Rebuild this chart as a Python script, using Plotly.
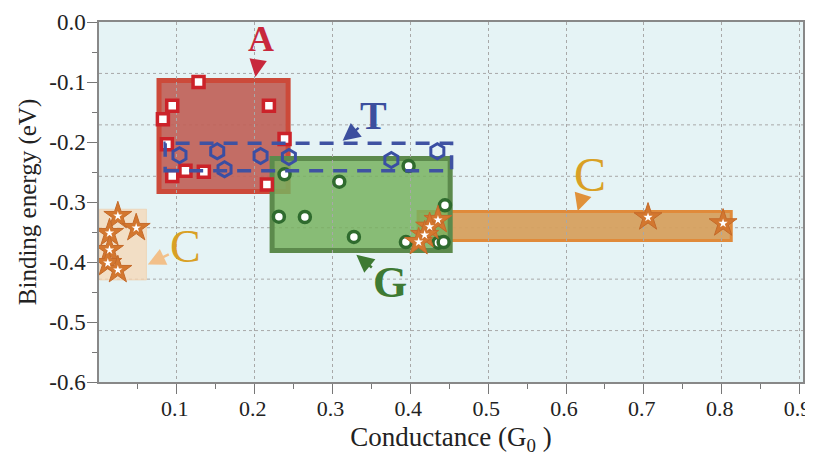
import plotly.graph_objects as go

# ---------------- data ----------------
A_x = [0.1279, 0.0941, 0.0821, 0.2183, 0.0872, 0.2384, 0.1111, 0.0941, 0.1347, 0.2157]
A_y = [-0.100, -0.1395, -0.162, -0.1395, -0.2038, -0.195, -0.248, -0.2567, -0.2495, -0.271]

T_x = [0.1034, 0.1519, 0.1613, 0.2076, 0.2440, 0.3756, 0.4347]
T_y = [-0.222, -0.2155, -0.2455, -0.2233, -0.225, -0.230, -0.2155]

G_x = [0.2384, 0.3087, 0.3978, 0.2311, 0.2645, 0.4445, 0.3275, 0.3943, 0.4361, 0.4428]
G_y = [-0.2538, -0.2662, -0.2400, -0.3245, -0.325, -0.3055, -0.3583, -0.3667, -0.3678, -0.3667]

C_x = [0.0242, 0.0478, 0.0135, 0.0135, 0.0113, 0.0242,
       0.4355, 0.4248, 0.4184, 0.4107, 0.7054, 0.8018]
C_y = [-0.3233, -0.3433, -0.3517, -0.380, -0.4017, -0.4133,
       -0.330, -0.3412, -0.355, -0.3667, -0.3255, -0.3355]

# region boxes: [x0, x1], [y0, y1]
box_A = ([0.0771, 0.2430], [-0.2825, -0.0975])
box_G = ([0.2224, 0.4512], [-0.3808, -0.2275])
box_C_bar = ([0.4100, 0.8123], [-0.3642, -0.3158])
box_C_low = ([0.0006, 0.0610], [-0.4300, -0.3120])
box_T = ([0.0850, 0.4530], [-0.2480, -0.2020])

x_ticks = [0.1, 0.2, 0.3, 0.4, 0.5, 0.6, 0.7, 0.8, 0.9]
x_ticktext = ["0.1", "0.2", "0.3", "0.4", "0.5", "0.6", "0.7", "0.8", "0.9"]
y_ticks = [0.0, -0.1, -0.2, -0.3, -0.4, -0.5, -0.6]
y_ticktext = ["0.0", "-0.1", "-0.2", "-0.3", "-0.4", "-0.5", "-0.6"]

# label annotations: text, tip (x, y), text offset (px), colour, size, arrow colour
labels = [
    ("<b>A</b>", 0.201, -0.0917, 6, -38, "#C8283C", 36, "#C8283C"),
    ("<b>T</b>", 0.313, -0.198, 31, -25, "#3C4F9E", 40, "#3C4F9E"),
    ("<b>G</b>", 0.3306, -0.388, 34, 28, "#3E7A33", 44, "#3E7A33"),
    ("C", 0.615, -0.315, 12, -37, "#D9A024", 48, "#E0913A"),
    ("C", 0.0627, -0.404, 38, -18, "#D9A024", 46, "#F2C08A"),
]

SERIF = "Liberation Serif, Times New Roman, serif"

fig = go.Figure()

def rect(box, fill, line, lw, layer="below", dash=None):
    (x0, x1), (y0, y1) = box
    fig.add_shape(type="rect", xref="x", yref="y", x0=x0, x1=x1, y0=y0, y1=y1,
                  fillcolor=fill, line=dict(color=line, width=lw, dash=dash),
                  layer=layer)

rect(box_C_low, "rgba(245,215,180,0.75)", "rgba(240,200,160,0.5)", 1)
rect(box_C_bar, "rgba(214,160,95,0.95)", "#E08A3A", 3)
rect(box_A, "rgba(192,98,88,0.92)", "#CC4A3A", 5)
rect(box_G, "rgba(120,178,95,0.85)", "#5C8A4C", 5)
rect(box_T, "rgba(0,0,0,0)", "#3F52A2", 3.5, layer="above", dash="14px,10px")

# horizontal dotted grid (7 equal divisions)
for i in range(1, 7):
    yy = -0.6 * i / 7
    fig.add_shape(type="line", xref="paper", yref="y", x0=0, x1=1, y0=yy, y1=yy,
                  line=dict(color="#a8a8a8", width=1, dash="dot"), layer="below")

fig.add_trace(go.Scatter(x=A_x, y=A_y, mode="markers", name="A",
                         marker=dict(symbol="square", size=11, color="white",
                                     line=dict(color="#CC2229", width=3.5))))
fig.add_trace(go.Scatter(x=T_x, y=T_y, mode="markers", name="T",
                         marker=dict(symbol="hexagon-open", size=15, color="#3A4EA3",
                                     line=dict(color="#3A4EA3", width=3))))
fig.add_trace(go.Scatter(x=G_x, y=G_y, mode="markers", name="G",
                         marker=dict(symbol="circle", size=11, color="white",
                                     line=dict(color="#2F6B2E", width=3.5))))
fig.add_trace(go.Scatter(x=C_x, y=C_y, mode="markers", name="C",
                         marker=dict(symbol="star", size=21, color="#D3772F",
                                     line=dict(color="#C46A2A", width=1))))
fig.add_trace(go.Scatter(x=C_x, y=C_y, mode="markers", name="C centre",
                         marker=dict(symbol="star", size=7, color="white",
                                     line=dict(width=0))))

for text, x, y, ax, ay, col, size, acol in labels:
    fig.add_annotation(x=x, y=y, xref="x", yref="y", ax=ax, ay=ay,
                       text=text, showarrow=True, arrowhead=2, arrowsize=1.4,
                       arrowwidth=2.5, arrowcolor=acol, standoff=0,
                       font=dict(family=SERIF, size=size, color=col))

# the page body adds an 8px offset, so the figure is 8px smaller on each side
fig.update_layout(
    width=805, height=448,
    margin=dict(l=91, r=10, t=14, b=74),
    paper_bgcolor="white", plot_bgcolor="#E5F3F5",
    showlegend=False,
    font=dict(family=SERIF, size=22, color="#222"),
    xaxis=dict(range=[0, 0.9045], tickvals=x_ticks, ticktext=x_ticktext,
               automargin=False, ticklabeloverflow="allow",
               ticks="outside", ticklen=10, tickwidth=1, tickcolor="#777",
               ticklabelstandoff=-4, ticklabelshift=-2,
               showline=True, linecolor="#888", linewidth=1.5, mirror=True,
               showgrid=True, gridcolor="#a8a8a8", griddash="dot", gridwidth=1,
               zeroline=False,
               minor=dict(tickvals=[0.05, 0.15, 0.25, 0.35, 0.45, 0.55, 0.65, 0.75, 0.85],
                          ticks="outside", ticklen=5, tickcolor="#777", showgrid=False),
               tickfont=dict(family=SERIF, size=22, color="#222"),
               title=dict(text="Conductance (G<sub>0</sub> )", standoff=8,
                          font=dict(family=SERIF, size=27, color="#222"))),
    yaxis=dict(range=[-0.6, 0], tickvals=y_ticks, ticktext=y_ticktext,
               automargin=False, ticklabeloverflow="allow",
               ticks="outside", ticklen=10, tickwidth=1, tickcolor="#777",
               ticklabelstandoff=-3,
               showline=True, linecolor="#888", linewidth=1.5, mirror=True,
               showgrid=False, zeroline=False,
               minor=dict(tickvals=[-0.05, -0.15, -0.25, -0.35, -0.45, -0.55],
                          ticks="outside", ticklen=5, tickcolor="#777", showgrid=False),
               tickfont=dict(family=SERIF, size=23, color="#222"),
               title=dict(text="Binding energy (eV)", standoff=5,
                          font=dict(family=SERIF, size=25, color="#222"))),
)

fig.write_html("out.html")
